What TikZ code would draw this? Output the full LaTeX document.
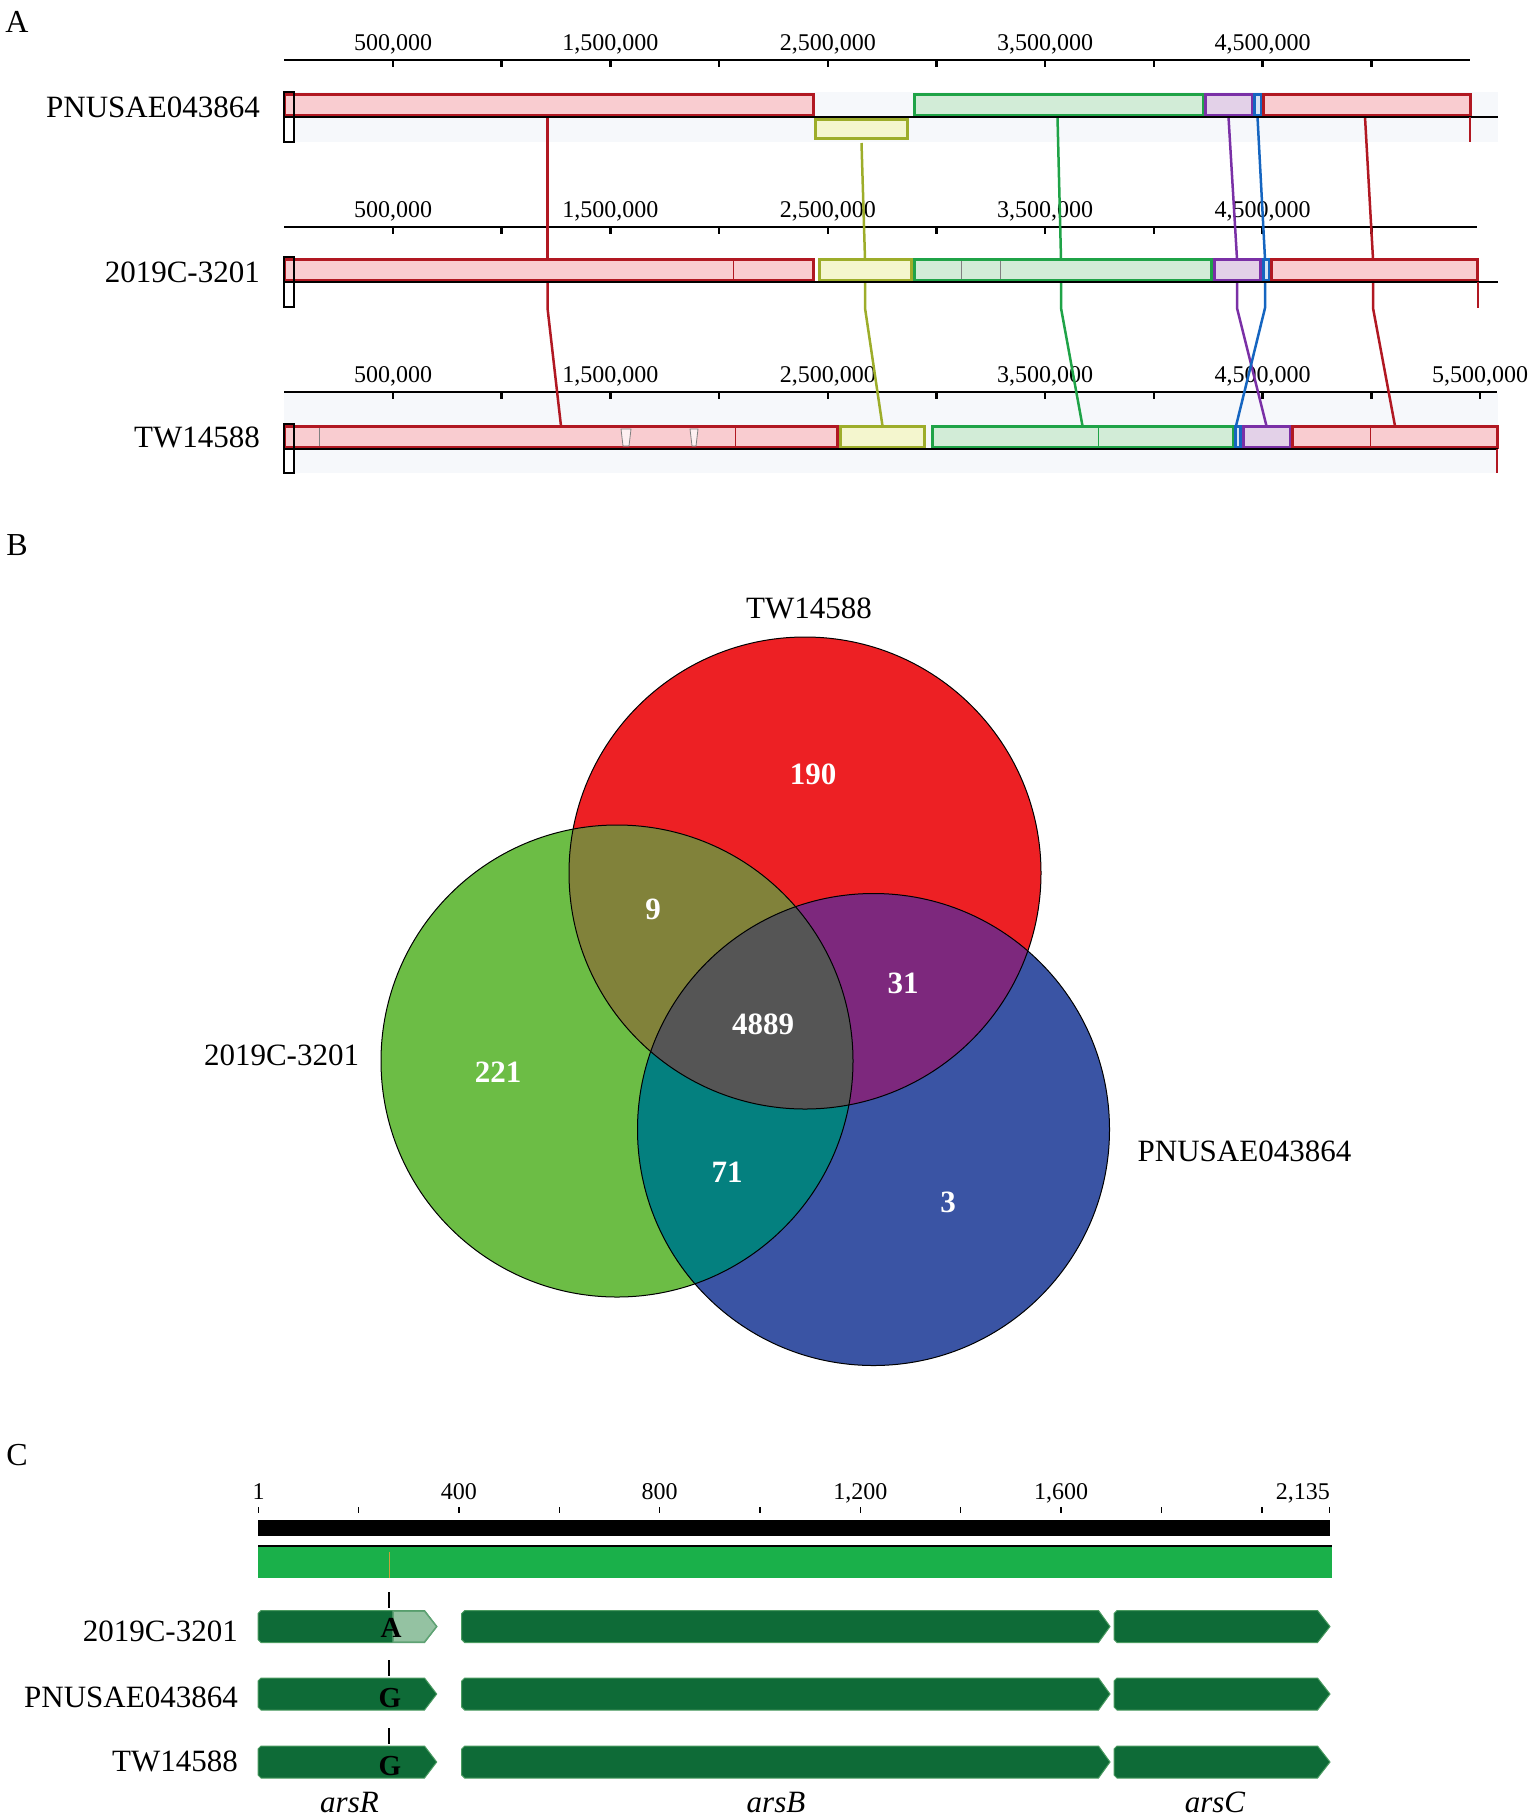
\documentclass[tikz,border=0pt]{standalone}
\usepackage{fontspec}
\setmainfont{Liberation Serif}
\usepackage{xcolor}
\definecolor{mR}{HTML}{B11822}
\definecolor{mRf}{HTML}{F9CCD0}
\definecolor{mY}{HTML}{9DAD2A}
\definecolor{mYf}{HTML}{F4F6CE}
\definecolor{mG}{HTML}{1FA347}
\definecolor{mGf}{HTML}{D2ECD7}
\definecolor{mP}{HTML}{7A30A6}
\definecolor{mPf}{HTML}{E3D1E8}
\definecolor{mB}{HTML}{1565C0}
\definecolor{mBf}{HTML}{D6E4F5}
\definecolor{band}{HTML}{F6F8FB}
\definecolor{vR}{HTML}{ED2024}
\definecolor{vG}{HTML}{6CBD45}
\definecolor{vB}{HTML}{3A54A4}
\definecolor{vRG}{HTML}{81823A}
\definecolor{vRB}{HTML}{7D287D}
\definecolor{vGB}{HTML}{04807F}
\definecolor{vRGB}{HTML}{555555}
\definecolor{geneD}{HTML}{0E6B37}
\definecolor{geneE}{HTML}{4A9A60}
\definecolor{geneL}{HTML}{94C2A2}
\definecolor{geneLE}{HTML}{5FA274}
\definecolor{gbar}{HTML}{1AB04A}
\definecolor{snp}{HTML}{C9A13A}

\begin{document}
\begin{tikzpicture}[
				x=1pt,y=-1pt,
				lab/.style={font=\fontsize{31}{36}\selectfont,inner sep=0pt},
				plab/.style={font=\fontsize{32}{38}\selectfont,inner sep=0pt},
				rul/.style={font=\fontsize{24}{28}\selectfont,inner sep=0pt},
				num/.style={font=\fontsize{31}{36}\selectfont\bfseries,text=white,inner sep=0pt},
				blk/.style={line width=3pt},
				lnk/.style={line width=2.5pt},
				gene/.style={fill=geneD,draw=geneE,line width=1pt}
				]
				
				\useasboundingbox (0,0) rectangle (1535,1818);
				
				% Pannello A
				\node[plab] (pA) at (17,22) {A};
				\fill[band] (284,92) rectangle (1498,142);
				\fill[band] (284,393) rectangle (1498,473);
				
				\foreach \ry/\re/\nk in {60/1470/10, 227/1477/10, 392/1497/11} {
					\draw[line width=2pt] (284,\ry) -- (\re,\ry);
					\foreach \k in {1,...,\nk} \draw[line width=2.5pt] (284.3+108.7*\k,\ry) -- ++(0,7);
					\foreach \k/\t in {1/{500,000},3/{1,500,000},5/{2,500,000},7/{3,500,000},9/{4,500,000}}
						\node[rul,anchor=base] at (284.3+108.7*\k,\ry-10) {\t};
				}
				\node[rul,anchor=base] (r55) at (1480,382) {5,500,000};
				
				\node[lab,anchor=base east] (tA1) at (260,117) {PNUSAE043864};
				\node[lab,anchor=base east] (tA2) at (260,282) {2019C-3201};
				\node[lab,anchor=base east] (tA3) at (260,447) {TW14588};
				
				% Collegamenti
				\foreach \a/\b/\col/\s in {547.5/547.5/mR/117, 861.5/865/mY/143, 1057.5/1061/mG/117, 1228.5/1237/mP/117, 1257.5/1265/mB/117, 1365/1373/mR/117}
					\draw[lnk,\col] (\a,\s) -- (\b,259);
				\foreach \a/\b/\col in {547.5/561/mR, 865/882.5/mY, 1061/1082.5/mG, 1237/1266.5/mP, 1265/1236/mB, 1373/1395/mR}
					\draw[lnk,\col] (\a,282) -- (\a,308) -- (\b,426);
				
				% Blocchi
				\foreach \a/\b/\col in {284/813/mR, 914.5/1203.5/mG, 1205/1252.5/mP, 1254/1261/mB, 1263.5/1470/mR}
					\filldraw[blk,draw=\col,fill=\col f] (\a,94) rectangle (\b,115);
				\filldraw[blk,draw=mY,fill=mYf] (815.5,119) rectangle (907.5,138);
				\foreach \a/\b/\col in {284/813/mR, 819.5/911/mY, 914.5/1211/mG, 1214.5/1260.5/mP, 1263.5/1269/mB, 1271.5/1477.5/mR}
					\filldraw[blk,draw=\col,fill=\col f] (\a,259) rectangle (\b,280);
				\foreach \a/\b/\col in {284/837.5/mR, 840.5/924/mY, 932/1233/mG, 1235/1240/mB, 1243/1290/mP, 1292.5/1497.5/mR}
					\filldraw[blk,draw=\col,fill=\col f] (\a,426) rectangle (\b,447);
				
				\draw[mR,line width=1pt] (733,261) -- (733,279);
				\draw[gray,line width=1pt] (961,261) -- (961,279) (1000,261) -- (1000,279);
				\filldraw[fill=white!70!mRf,draw=gray,line width=0.8pt] (621,429) -- (631,429) -- (629,446) -- (623,446) -- cycle;
				\filldraw[fill=white!70!mRf,draw=gray,line width=0.8pt] (690,429) -- (698,429) -- (696,446) -- (692,446) -- cycle;
				\draw[gray,line width=1pt] (319,428) -- (319,446);
				\draw[mR,line width=1pt] (735,428) -- (735,446) (1370,428) -- (1370,446);
				\draw[mG,line width=1.5pt] (1098.5,427) -- (1098.5,446);
				
				\foreach \L/\B in {117/142, 282/307, 449/473} {
					\draw[line width=2.5pt] (284,\L) -- (1498,\L);
					\filldraw[fill=white,line width=2pt] (284,\L) rectangle (294,\B);
					\draw[line width=2pt] (284,\L-25) rectangle (294,\L);
				}
				\draw[mR,line width=1.2pt] (1470,117) -- (1470,142);
				\draw[mR,line width=1.2pt] (1478,282) -- (1478,308);
				\draw[mR,line width=1.2pt] (1497,449) -- (1497,473);
				
				% Pannello B
				\node[plab] (pB) at (17,545) {B};
				\coordinate (cR) at (805,873);
				\coordinate (cG) at (617,1061);
				\coordinate (cB) at (873.5,1129.5);
				\fill[vR] (cR) circle[radius=236pt];
				\fill[vG] (cG) circle[radius=236pt];
				\fill[vB] (cB) circle[radius=236pt];
				\begin{scope}
					\clip (cR) circle[radius=236pt];
					\fill[vRG] (cG) circle[radius=236pt];
					\fill[vRB] (cB) circle[radius=236pt];
				\end{scope}
				\begin{scope}
					\clip (cG) circle[radius=236pt];
					\fill[vGB] (cB) circle[radius=236pt];
				\end{scope}
				\begin{scope}
					\clip (cR) circle[radius=236pt];
					\clip (cG) circle[radius=236pt];
					\fill[vRGB] (cB) circle[radius=236pt];
				\end{scope}
				\foreach \c in {cR,cG,cB} \draw[line width=1pt] (\c) circle[radius=236pt];
				
				\node[lab,anchor=base] (lR) at (809,618) {TW14588};
				\node[lab,anchor=base] (lG) at (281.5,1065) {2019C-3201};
				\node[lab,anchor=base] (lB) at (1244.5,1161.5) {PNUSAE043864};
				\node[num] (n1) at (813,774) {190};
				\node[num] (n2) at (653,909) {9};
				\node[num] (n3) at (903,983) {31};
				\node[num] (n4) at (763,1024) {4889};
				\node[num] (n5) at (498,1072) {221};
				\node[num] (n6) at (727,1172) {71};
				\node[num] (n7) at (948,1202) {3};
				
				% Pannello C
				\node[plab] (pC) at (17,1455) {C};
				\foreach \p in {1,200,400,600,800,1000,1200,1400,1600,1800,2000,2135}
					\draw[line width=1.5pt] ({258.7+(\p-1)*0.5018},1507) -- ++(0,6);
				\foreach \p/\t in {1/1,400/400,800/800,1200/{1,200},1600/{1,600}}
					\node[rul,anchor=base] at ({258.7+(\p-1)*0.5018},1499) {\t};
				\node[rul,anchor=base east] (e2135) at (1330,1499) {2,135};
				
				\fill[black] (258,1520) rectangle (1330,1536);
				\draw[line width=2pt] (258,1546) -- (1332,1546);
				\fill[gbar] (258,1547) rectangle (1332,1578);
				\draw[snp,line width=1pt] (389,1552) -- (389,1578);
				
				\foreach \y in {1592,1660,1728} \draw[line width=1.5pt] (389,\y) -- ++(0,16);
				
				\foreach \yc in {1626.5,1694,1762}
					\foreach \l/\e/\t in {258/424.5/436.7, 461.7/1098.5/1110, 1114/1317.5/1330}
						\filldraw[gene] (\l+3,\yc-16) -- (\e,\yc-16) -- (\t,\yc) -- (\e,\yc+16) -- (\l+3,\yc+16) -- (\l,\yc+13) -- (\l,\yc-13) -- cycle;
				\filldraw[fill=geneL,draw=geneLE,line width=1.5pt] (393,1611) -- (424.5,1611) -- (436.7,1626.5) -- (424.5,1642) -- (393,1642) -- cycle;
				
				\node[font=\fontsize{29}{34}\selectfont\bfseries,inner sep=0pt] (sA) at (391,1627.5) {A};
				\node[font=\fontsize{29}{34}\selectfont\bfseries,inner sep=0pt] (sG1) at (390,1698) {G};
				\node[font=\fontsize{29}{34}\selectfont\bfseries,inner sep=0pt] (sG2) at (390,1766.5) {G};
				
				\node[lab,anchor=base east] (c1) at (238,1641.7) {2019C-3201};
				\node[lab,anchor=base east] (c2) at (238,1707.3) {PNUSAE043864};
				\node[lab,anchor=base east] (c3) at (238,1771.7) {TW14588};
				
				\node[lab,anchor=base,font=\fontsize{31}{36}\selectfont\itshape] (gR) at (349.5,1812.5) {arsR};
				\node[lab,anchor=base,font=\fontsize{31}{36}\selectfont\itshape] (gB) at (776,1812.5) {arsB};
				\node[lab,anchor=base,font=\fontsize{31}{36}\selectfont\itshape] (gC) at (1215,1812.5) {arsC};
				
			\end{tikzpicture}
\end{document}
